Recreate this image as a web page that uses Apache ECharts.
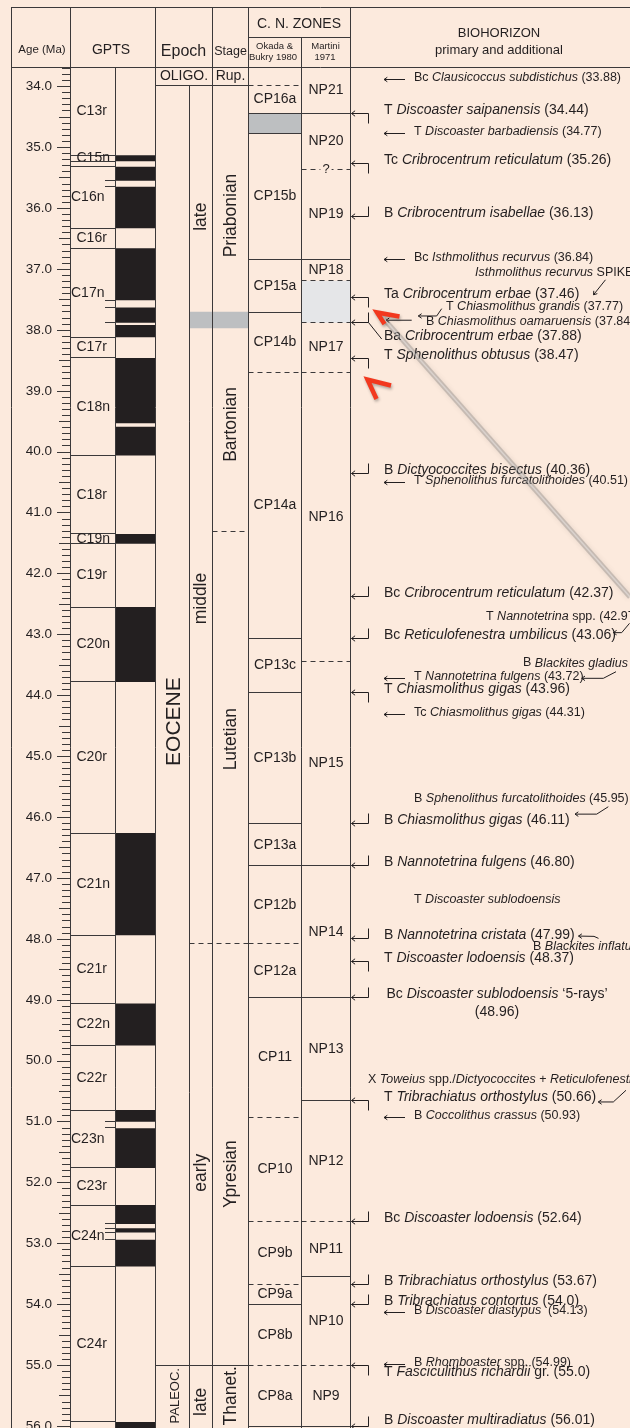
<!DOCTYPE html>
<html>
<head>
<meta charset="utf-8">
<title>Eocene calcareous nannofossil biohorizons</title>
<script src="https://cdn.jsdelivr.net/npm/echarts@6.0.0/dist/echarts.min.js"></script>
<style>
  html, body { margin: 0; padding: 0; background: #FCEADD; }
  #chart { width: 630px; height: 1428px; }
</style>
</head>
<body>
<div id="chart"></div>
<script>
// ---------------- age scale ----------------
const ageTicks = [34, 35, 36, 37, 38, 39, 40, 41, 42, 43, 44, 45, 46, 47, 48, 49, 50, 51, 52, 53, 54, 55, 56];

// ---------------- GPTS: chrons and normal-polarity intervals ----------------
const chronNames = ['C13r', 'C15n', '', 'C16n', 'C16r', 'C17n', 'C17r', 'C18n', 'C18r', 'C19n', 'C19r',
  'C20n', 'C20r', 'C21n', 'C21r', 'C22n', 'C22r', 'C23n', 'C23r', 'C24n', 'C24r', ''];
const chronTops = [33.69, 35.13, 35.23, 35.32, 36.33, 36.66, 38.12, 38.46, 40.06, 41.35, 41.51,
  42.55, 43.78, 46.26, 47.94, 49.06, 49.75, 50.81, 51.75, 52.38, 53.38, 55.93];
const normalTops = [35.13, 35.32, 35.65, 36.66, 37.63, 37.92, 38.46, 39.59, 41.35, 42.55, 46.26,
  49.06, 50.81, 51.11, 52.37, 52.75, 52.94, 55.93];
const normalBases = [35.23, 35.55, 36.33, 37.51, 37.88, 38.12, 39.53, 40.06, 41.51, 43.78, 47.94,
  49.75, 51.00, 51.76, 52.68, 52.82, 53.38, 56.10];
const subchronMarks = [35.55, 35.65, 37.51, 37.63, 37.88, 51.00, 51.10, 52.68, 52.75, 52.82, 52.94];

// ---------------- epochs, sub-epochs, stages ----------------
const epochNames = ['OLIGO.', 'EOCENE', 'PALEOC.'];
const epochLabelAges = [33.84, 44.43, 55.5];
const epochBounds = [33.99, 55.0];
const subEpochNames = ['late', 'middle', 'early', 'late'];
const subEpochLabelAges = [36.14, 42.41, 51.84, 55.6];
const lateMiddleBand = [37.70, 37.97];
const middleEarlyBound = 48.08;
const stageNames = ['Rup.', 'Priabonian', 'Bartonian', 'Lutetian', 'Ypresian', 'Thanet.'];
const stageLabelAges = [33.84, 36.12, 39.55, 44.72, 51.86, 55.5];
const bartonianBase = 41.31;

// ---------------- calcareous nannofossil zones ----------------
const cpNames = ['CP16a', '', 'CP15b', 'CP15a', 'CP14b', 'CP14a', 'CP13c', 'CP13b', 'CP13a', 'CP12b',
  'CP12a', 'CP11', 'CP10', 'CP9b', 'CP9a', 'CP8b', 'CP8a'];
const cpTops = [33.99, 34.44, 34.77, 36.84, 37.71, 38.70, 43.06, 43.96, 46.11, 46.80,
  48.08, 48.96, 50.93, 52.64, 53.67, 54.0, 55.0];
const cpTopUncertain = [true, false, false, false, false, true, false, false, false, false,
  true, false, true, true, true, false, true];
const npNames = ['NP21', 'NP20', 'NP19', 'NP18', '', 'NP17', 'NP16', 'NP15', 'NP14', 'NP13',
  'NP12', 'NP11', 'NP10', 'NP9'];
const npTops = [33.69, 34.44, 35.36, 36.84, 37.19, 37.88, 38.70, 43.44, 46.80, 48.96,
  50.66, 52.64, 53.54, 55.0];
const npTopUncertain = [false, false, true, false, true, true, true, true, false, false,
  false, true, false, true];
const npTopQueried = [false, false, true, false, false, false, false, false, false, false,
  false, false, false, false];
const zoneBase = 56.01;

// ---------------- primary biohorizons ----------------
const primaryPrefix = ['T', 'Tc', 'B', 'Ta', 'Ba', 'T', 'B', 'Bc', 'Bc', 'T', 'B', 'B', 'B', 'T',
  'Bc', 'T', 'Bc', 'B', 'B', 'T', 'B'];
const primaryTaxon = ['Discoaster saipanensis', 'Cribrocentrum reticulatum', 'Cribrocentrum isabellae',
  'Cribrocentrum erbae', 'Cribrocentrum erbae', 'Sphenolithus obtusus', 'Dictyococcites bisectus',
  'Cribrocentrum reticulatum', 'Reticulofenestra umbilicus', 'Chiasmolithus gigas', 'Chiasmolithus gigas',
  'Nannotetrina fulgens', 'Nannotetrina cristata', 'Discoaster lodoensis', 'Discoaster sublodoensis',
  'Tribrachiatus orthostylus', 'Discoaster lodoensis', 'Tribrachiatus orthostylus', 'Tribrachiatus contortus',
  'Fasciculithus richardii', 'Discoaster multiradiatus'];
const primaryQualifier = ['', '', '', '', '', '', '', '', '', '', '', '', '', '',
  ' \u20185-rays\u2019', '', '', '', '', ' gr.', ''];
const primaryAge = ['34.44', '35.26', '36.13', '37.46', '37.88', '38.47', '40.36', '42.37', '43.06', '43.96',
  '46.11', '46.80', '47.99', '48.37', '48.96', '50.66', '52.64', '53.67', '54.0', '55.0', '56.01'];

// ---------------- additional biohorizons ----------------
const additionalPrefix = ['Bc', 'T', 'Bc', 'T', 'T', 'Tc', 'B', 'B', 'B'];
const additionalTaxon = ['Clausicoccus subdistichus', 'Discoaster barbadiensis', 'Isthmolithus recurvus',
  'Sphenolithus furcatolithoides', 'Nannotetrina fulgens', 'Chiasmolithus gigas', 'Coccolithus crassus',
  'Discoaster diastypus', 'Rhomboaster'];
const additionalQualifier = ['', '', '', '', '', '', '', ' ', ' spp.'];
const additionalAge = ['33.88', '34.77', '36.84', '40.51', '43.72', '44.31', '50.93', '54.13', '54.99'];

// notes tied to a level by a leader (italics between asterisks)
const noteText = ['*Isthmolithus recurvus* SPIKE', 'T *Chiasmolithus grandis* (37.77)',
  'B *Chiasmolithus oamaruensis* (37.84)', 'T *Nannotetrina* spp. (42.97)', 'B *Blackites gladius*',
  'B *Sphenolithus furcatolithoides* (45.95)', 'T *Discoaster sublodoensis*', 'B *Blackites inflatus*',
  'X *Toweius* spp./*Dictyococcites* + *Reticulofenestra*'];
const noteLevel = [37.46, 37.77, 37.84, 42.97, 43.72, 45.95, 47.35, 47.99, 50.66];

// ---------------- drawing setup ----------------
const BG = '#FCEADD';
const INK = '#231F20';
const RULE = '#3B393A';
const GREY_BAND = '#BDBFC1';
const PALE_BAND = '#E5E6E8';
const FONT = '"Liberation Sans", Arial, Helvetica, sans-serif';
const AGE_MIN = 33.69, AGE_MAX = 56.03;
const X0 = 70;                       // pixel column of the age axis (grid left edge)
const COL = { frame: 11.5, gptsSplit: 115.5, epoch: 155.5, subEpoch: 189.5, stage: 212.5,
  cp: 248.5, np: 301.5, bio: 350.5, right: 630 };

// label placement for the free-standing notes: text x, text offset, leader path [x, offset]
const noteLayout = [
  { x: 475, dy: -24.3, path: [[605.5, -17.3], [593.5, -2.3]] },
  { x: 446, dy: -9.3, path: [[441.7, -7.3], [436.7, 0], [418.3, 0]] },
  { x: 426, dy: 1.5, path: [[411.7, 0], [386, 0]] },
  { x: 486, dy: -16.3, path: [[629.5, -9.3], [621.7, 0], [613.3, 0]] },
  { x: 523, dy: -15.3, path: [[616, -6.6], [603.3, 0], [581.7, 0]] },
  { x: 414, dy: -15.7, path: [[608.3, -7.4], [596.7, 0], [575, 0]] },
  { x: 414, dy: 0, path: null },
  { x: 533, dy: 7.7, path: [[598.5, 0], [594, -2], [578.5, -2.3]] },
  { x: 368, dy: -21.4, path: [[626, -10.7], [613.3, 1], [598.3, 1]] }
];
const primaryLayout = { 4: { dy: 16.5, leader: true }, 14: { wrap: true }, 19: { dy: 10 }, 20: { dy: -3 } };
const chronShiftLeft = { 'C16n': 1, 'C17n': 1, 'C23n': 1, 'C24n': 1 };

// ---------------- helpers ----------------
const crisp = v => Math.round(v - 0.5) + 0.5;
const yAt = (api, age) => api.coord([0, age])[1];
function seg(x1, y1, x2, y2, opt) {
  opt = opt || {};
  const style = { stroke: opt.color || RULE, lineWidth: opt.width || 1 };
  if (opt.dash) style.lineDash = [5, 4];
  return { type: 'line', shape: { x1, y1, x2, y2 }, style };
}
function text(x, y, str, size, opt) {
  opt = opt || {};
  return {
    type: 'text', x, y, rotation: opt.rot || 0,
    style: {
      text: str, x: 0, y: 0, fill: INK, fontSize: size, fontFamily: FONT,
      align: opt.align || 'center', textAlign: opt.align || 'center',
      verticalAlign: 'middle', textVerticalAlign: 'middle',
      backgroundColor: opt.bg || null, padding: opt.bg ? [0, 2] : 0
    }
  };
}
function richLabel(x, y, markup, size, opt) {
  opt = opt || {};
  const body = markup.split('*').map((s, k) => s ? `{${k % 2 ? 'i' : 'r'}|${s}}` : '').join('');
  const lh = opt.lineHeight || Math.round(size * 1.25);
  return {
    type: 'text', x, y,
    style: {
      text: body, x: 0, y: 0, fill: INK, fontSize: size, fontFamily: FONT,
      align: opt.align || 'left', textAlign: opt.align || 'left',
      verticalAlign: 'middle', textVerticalAlign: 'middle',
      rich: {
        r: { fontSize: size, fontFamily: FONT, fill: INK, lineHeight: lh },
        i: { fontSize: size, fontFamily: FONT, fontStyle: 'italic', fill: INK, lineHeight: lh }
      }
    }
  };
}
function arrowHead(tip, from, len, spread) {
  const a = Math.atan2(from[1] - tip[1], from[0] - tip[0]);
  return {
    type: 'polyline',
    shape: { points: [[tip[0] + len * Math.cos(a + spread), tip[1] + len * Math.sin(a + spread)], tip,
      [tip[0] + len * Math.cos(a - spread), tip[1] + len * Math.sin(a - spread)]] },
    style: { stroke: INK, fill: null, lineWidth: 1 }
  };
}
function custom(data, renderItem, z) {
  return { type: 'custom', coordinateSystem: 'cartesian2d', silent: true, clip: false, z: z || 2,
    data: data.map(a => [0, a]), renderItem };
}

// ---------------- series ----------------
const series = [];

// column rules inside the plotting area
series.push(custom([AGE_MIN], (p, api) => {
  const top = yAt(api, AGE_MIN), bot = yAt(api, AGE_MAX);
  const kids = [COL.frame, COL.gptsSplit, COL.epoch, COL.stage, COL.cp, COL.np, COL.bio]
    .map(x => seg(x, top, x, bot, { color: RULE }));
  kids.push(seg(COL.subEpoch, crisp(yAt(api, epochBounds[0])), COL.subEpoch, bot));
  return { type: 'group', children: kids };
}, 4));

// chron boundaries and names
series.push(custom(chronTops, (p, api) => {
  const i = p.dataIndex;
  const top = chronTops[i];
  const base = i + 1 < chronTops.length ? chronTops[i + 1] : AGE_MAX;
  const kids = [];
  if (i > 0) { const y = crisp(yAt(api, top)); kids.push(seg(X0, y, COL.gptsSplit, y)); }
  if (chronNames[i]) {
    const y = yAt(api, (top + base) / 2);
    kids.push(text(chronShiftLeft[chronNames[i]] ? 71 : 76.5, y, chronNames[i], 14, { align: 'left' }));
  }
  return { type: 'group', children: kids };
}));

// normal polarity (black)
series.push(custom(normalTops, (p, api) => {
  const i = p.dataIndex;
  const y0 = yAt(api, normalTops[i]), y1 = yAt(api, normalBases[i]);
  return { type: 'rect', shape: { x: COL.gptsSplit + 0.5, y: y0, width: COL.epoch - COL.gptsSplit - 1, height: y1 - y0 },
    style: { fill: INK } };
}));

// subchron marks
series.push(custom(subchronMarks, (p, api) => {
  const y = crisp(yAt(api, subchronMarks[p.dataIndex]));
  return seg(105, y, COL.gptsSplit, y);
}));

// epoch / sub-epoch / stage boundaries and grey transition band
series.push(custom([AGE_MIN], (p, api) => {
  const kids = [];
  const b0 = yAt(api, lateMiddleBand[0]), b1 = yAt(api, lateMiddleBand[1]);
  kids.push({ type: 'rect', shape: { x: COL.subEpoch, y: b0, width: COL.cp - COL.subEpoch, height: b1 - b0 },
    style: { fill: GREY_BAND } });
  epochBounds.forEach(a => { const y = crisp(yAt(api, a)); kids.push(seg(COL.epoch, y, COL.cp, y)); });
  const ym = crisp(yAt(api, middleEarlyBound));
  kids.push(seg(COL.subEpoch, ym, COL.cp, ym, { dash: true }));
  const yb = crisp(yAt(api, bartonianBase));
  kids.push(seg(COL.stage, yb, COL.cp, yb, { dash: true }));
  return { type: 'group', children: kids };
}, 3));

// epoch / sub-epoch / stage names
series.push(custom(epochLabelAges, (p, api) => {
  const i = p.dataIndex, y = yAt(api, epochLabelAges[i]);
  if (i === 0) return text(184, y, epochNames[i], 14);
  return text(i === 1 ? 174 : 175, y, epochNames[i], i === 1 ? 21 : 13, { rot: Math.PI / 2 });
}));
series.push(custom(subEpochLabelAges, (p, api) => {
  const i = p.dataIndex;
  return text(201.5, yAt(api, subEpochLabelAges[i]), subEpochNames[i], 17.5, { rot: Math.PI / 2 });
}));
series.push(custom(stageLabelAges, (p, api) => {
  const i = p.dataIndex, y = yAt(api, stageLabelAges[i]);
  if (i === 0) return text(230.5, y, stageNames[i], 14);
  return text(231, y, stageNames[i], 17.5, { rot: Math.PI / 2 });
}));

// zone columns
function zoneRenderer(names, tops, uncertain, queried, x0, x1, bandColor) {
  return (p, api) => {
    const i = p.dataIndex;
    const top = tops[i], base = i + 1 < tops.length ? tops[i + 1] : zoneBase;
    const yt = yAt(api, top), yb = yAt(api, base);
    const kids = [];
    if (!names[i]) {
      kids.push({ type: 'rect', shape: { x: x0, y: yt, width: x1 - x0, height: yb - yt }, style: { fill: bandColor } });
    } else {
      kids.push(text((x0 + x1) / 2, (yt + yb) / 2, names[i], 14));
    }
    if (top > AGE_MIN) {
      const y = crisp(yt);
      kids.push(seg(x0, y, x1, y, { dash: uncertain[i] }));
      if (queried && queried[i]) kids.push(text((x0 + x1) / 2, y, '?', 13, { bg: BG }));
    }
    if (i === tops.length - 1) { const y = crisp(yb); kids.push(seg(x0, y, x1, y)); }
    return { type: 'group', children: kids };
  };
}
series.push(custom(cpTops, zoneRenderer(cpNames, cpTops, cpTopUncertain, null, COL.cp, COL.np, GREY_BAND)));
series.push(custom(npTops, zoneRenderer(npNames, npTops, npTopUncertain, npTopQueried, COL.np, COL.bio, PALE_BAND)));

// primary biohorizons: bracket arrows against the zone column
series.push(custom(primaryAge.map(Number), (p, api) => {
  const i = p.dataIndex;
  const y = crisp(yAt(api, parseFloat(primaryAge[i])));
  const lay = primaryLayout[i] || {};
  const tip = COL.bio + 1, elbow = 368.5;
  const isTop = primaryPrefix[i][0] === 'T';
  const kids = [
    seg(tip, y, elbow, y, { color: INK }),
    seg(elbow, y, elbow, isTop ? y + 10 : y - 10, { color: INK }),
    arrowHead([tip, y], [elbow, y], 4.5, 0.65)
  ];
  const markup = `${primaryPrefix[i]} *${primaryTaxon[i]}*${primaryQualifier[i]}${lay.wrap ? '\n' : ' '}(${primaryAge[i]})`;
  if (lay.leader) kids.push(seg(elbow, y, 381.7, y + lay.dy, { color: INK }));
  if (lay.wrap) kids.push(richLabel(497, y + 5.7, markup, 14, { align: 'center', lineHeight: 18 }));
  else kids.push(richLabel(384, y - 3 + (lay.dy || 0), markup, 14));
  return { type: 'group', children: kids };
}, 5));

// additional biohorizons: plain arrows
series.push(custom(additionalAge.map(Number), (p, api) => {
  const i = p.dataIndex;
  const y = crisp(yAt(api, parseFloat(additionalAge[i])));
  const markup = `${additionalPrefix[i]} *${additionalTaxon[i]}*${additionalQualifier[i]} (${additionalAge[i]})`;
  return { type: 'group', children: [
    seg(384, y, 405, y, { color: INK }),
    arrowHead([384, y], [405, y], 4, 0.6),
    richLabel(414, y - 2, markup, 12.5)
  ] };
}, 5));

// notes with leaders
series.push(custom(noteLevel, (p, api) => {
  const i = p.dataIndex, lay = noteLayout[i];
  const y = yAt(api, noteLevel[i]);
  const kids = [richLabel(lay.x, y + lay.dy, noteText[i], 12.5)];
  if (lay.path) {
    const pts = lay.path.map(q => [q[0], y + q[1]]);
    kids.push({ type: 'polyline', shape: { points: pts }, style: { stroke: INK, fill: null, lineWidth: 1 } });
    kids.push(arrowHead(pts[pts.length - 1], pts[pts.length - 2], 4, 0.6));
  }
  return { type: 'group', children: kids };
}, 5));

// ---------------- header and overlay ----------------
const headerRules = [
  [11, 7.5, 630, 7.5], [11, 67.5, 630, 67.5], [248, 37.5, 350.5, 37.5],
  [11.5, 7, 11.5, 68], [70.5, 7, 70.5, 68], [155.5, 7, 155.5, 68], [212.5, 7, 212.5, 68],
  [248.5, 7, 248.5, 68], [301.5, 37.5, 301.5, 68], [350.5, 7, 350.5, 68]
];
const headerText = [
  ['Age (Ma)', 42, 50, 11.5], ['GPTS', 111, 50, 14], ['Epoch', 183.5, 52, 16], ['Stage', 230.5, 52, 12.5],
  ['C. N. ZONES', 299, 24, 14], ['Okada &', 274.5, 46.5, 9.5], ['Bukry 1980', 273, 57.3, 9.5],
  ['Martini', 325.5, 46.5, 9.5], ['1971', 325, 57.3, 9.5],
  ['BIOHORIZON', 499, 33.3, 13], ['primary and additional', 499, 50, 13]
];
const graphicEls = [];
headerRules.forEach(r => graphicEls.push({ type: 'line', silent: true, z: 10,
  shape: { x1: r[0], y1: r[1], x2: r[2], y2: r[3] }, style: { stroke: RULE, lineWidth: 1 } }));
headerText.forEach(t => graphicEls.push({ type: 'text', silent: true, z: 10, x: t[1], y: t[2],
  style: { text: t[0], fontSize: t[3], fontFamily: FONT, fill: INK, align: 'center', textAlign: 'center',
    verticalAlign: 'middle', textVerticalAlign: 'middle' } }));

// pointer marks drawn over the biohorizon column
const pointerShafts = [[[384, 319], [630, 597]]];
const pointerHeads = [[[399.5, 316.5], [377, 312.5], [384.5, 324]], [[391, 385.5], [367.5, 379.5], [376.5, 399]]];
pointerShafts.forEach(s => {
  graphicEls.push({ type: 'polyline', silent: true, z: 20,
    shape: { points: s }, style: { stroke: 'rgba(105,105,105,0.30)', lineWidth: 5, fill: null,
      shadowBlur: 5, shadowColor: 'rgba(90,90,90,0.45)' } });
  graphicEls.push({ type: 'polyline', silent: true, z: 20,
    shape: { points: s }, style: { stroke: 'rgba(255,255,255,0.35)', lineWidth: 1.5, fill: null } });
});
pointerHeads.forEach(h => graphicEls.push({ type: 'polyline', silent: true, z: 21,
  shape: { points: h }, style: { stroke: '#F2381E', lineWidth: 4.5, fill: null, lineJoin: 'miter',
    shadowBlur: 3, shadowColor: 'rgba(0,0,0,0.3)', shadowOffsetX: 1, shadowOffsetY: 2 } }));

// ---------------- chart ----------------
const minorTicks = [], halfTicks = [];
for (let k = Math.ceil(AGE_MIN * 10); k <= Math.floor(AGE_MAX * 10); k++) minorTicks.push(k / 10);
for (let k = Math.ceil(AGE_MIN * 2); k <= Math.floor(AGE_MAX * 2); k++) if (k % 2) halfTicks.push(k / 2);

const tickAxis = (values, len) => ({
  type: 'value', inverse: true, min: AGE_MIN, max: AGE_MAX, position: 'left', offset: 0,
  axisLine: { show: false, onZero: false },
  axisTick: { show: true, customValues: values, length: len, lineStyle: { color: RULE, width: 1 } },
  axisLabel: { show: false }, splitLine: { show: false }
});

const chart = echarts.init(document.getElementById('chart'), null, { renderer: 'canvas' });
chart.setOption({
  backgroundColor: BG,
  animation: false,
  grid: { left: X0, right: 0, top: 67.5, bottom: 0, containLabel: false, outerBoundsMode: 'none' },
  xAxis: { type: 'value', min: 0, max: 630 - X0, show: false },
  yAxis: [
    { type: 'value', inverse: true, min: AGE_MIN, max: AGE_MAX, position: 'left',
      axisLine: { show: true, onZero: false, lineStyle: { color: RULE, width: 1 } },
      axisTick: { show: true, customValues: ageTicks, length: 13, lineStyle: { color: RULE, width: 1 } },
      axisLabel: { show: true, customValues: ageTicks, margin: 18, hideOverlap: false,
        formatter: v => Number(v).toFixed(1), color: INK, fontSize: 13.5, fontFamily: FONT },
      splitLine: { show: false } },
    tickAxis(minorTicks, 8),
    tickAxis(halfTicks, 11)
  ],
  graphic: { elements: graphicEls },
  series
});
</script>
</body>
</html>
